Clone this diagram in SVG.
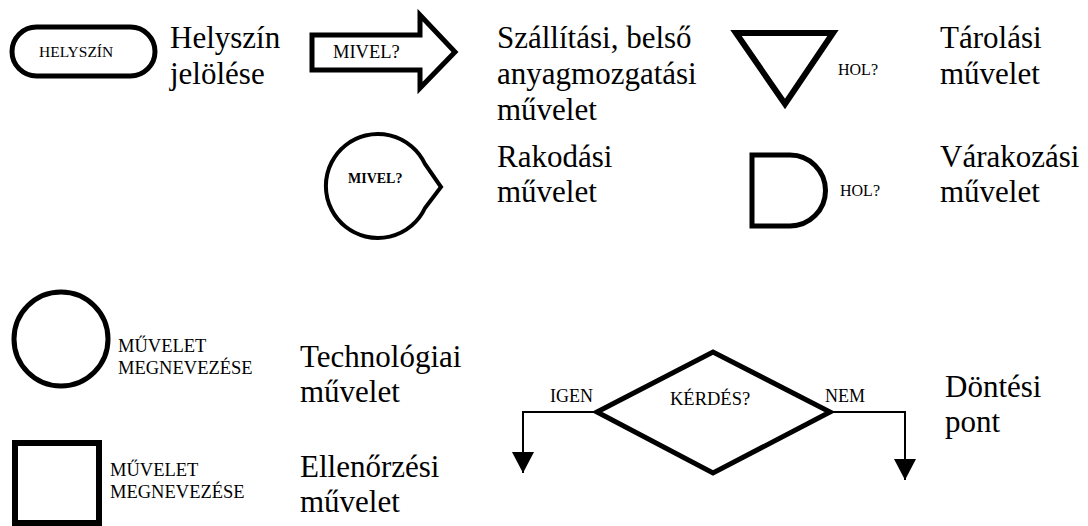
<svg xmlns="http://www.w3.org/2000/svg" width="1088" height="526" viewBox="0 0 1088 526" font-family="'Liberation Serif', 'Times New Roman', serif">
<defs>
<style>
text{font-family:'Liberation Serif','Times New Roman',serif;fill:#000}
.big{font-size:31px}
.sm{font-size:18.5px}
.sh{fill:none;stroke:#000;stroke-width:5;stroke-linejoin:miter}
.cn{fill:none;stroke:#000;stroke-width:2}
</style>
<marker id="ah" viewBox="0 0 21 22" refX="21" refY="11" markerWidth="21" markerHeight="22" markerUnits="userSpaceOnUse" orient="auto">
<path d="M0,0 L21,11 L0,22 Z" fill="#000"/>
</marker>
</defs>
<rect width="1088" height="526" fill="#fff"/>
<g id="helyszin">
<rect class="sh" x="12" y="27" width="143" height="49" rx="24.5"/>
<text class="sm" x="39" y="57" style="font-size:15.5px">HELYSZÍN</text>
<text class="big" x="170" y="48">Helyszín</text>
<text class="big" x="170" y="84">jelölése</text>
</g>
<g id="szallitas">
<path class="sh" d="M312,35 H420 V15 L455,52 L420,88 V70 H312 Z"/>
<text class="sm" x="333" y="58">MIVEL?</text>
<text class="big" x="497" y="48">Szállítási, belső</text>
<text class="big" x="497" y="84">anyagmozgatási</text>
<text class="big" x="497" y="120">művelet</text>
</g>
<g id="tarolas">
<path class="sh" d="M736,33 H833 L785,104 Z" style="stroke-width:6"/>
<text class="sm" x="838" y="75" style="font-size:16px">HOL?</text>
<text class="big" x="940" y="48">Tárolási</text>
<text class="big" x="940" y="84">művelet</text>
</g>
<g id="rakodas">
<path class="sh" d="M425,164 A52,52 0 1 0 425,208 L441,187 Z" style="stroke-width:4"/>
<text class="sm" x="348" y="183" style="font-size:14px;font-weight:bold">MIVEL?</text>
<text class="big" x="497" y="167">Rakodási</text>
<text class="big" x="497" y="202">művelet</text>
</g>
<g id="varakozas">
<path class="sh" d="M752,155 H790 A35.5,35.5 0 0 1 790,226 H752 Z"/>
<text class="sm" x="840" y="196" style="font-size:16px">HOL?</text>
<text class="big" x="940" y="167">Várakozási</text>
<text class="big" x="940" y="202">művelet</text>
</g>
<g id="technologia">
<circle class="sh" cx="61" cy="339" r="47"/>
<text class="sm" x="118" y="352">MŰVELET</text>
<text class="sm" x="118" y="374">MEGNEVEZÉSE</text>
<text class="big" x="300" y="367">Technológiai</text>
<text class="big" x="300" y="402">művelet</text>
</g>
<g id="ellenorzes">
<rect class="sh" x="15" y="443" width="84" height="80" style="stroke-width:6"/>
<text class="sm" x="110" y="476">MŰVELET</text>
<text class="sm" x="110" y="498">MEGNEVEZÉSE</text>
<text class="big" x="300" y="477">Ellenőrzési</text>
<text class="big" x="300" y="512">művelet</text>
</g>
<g id="dontes">
<path class="sh" d="M597,412 L713,352 L830,412 L713,473 Z"/>
<text class="sm" x="670" y="405">KÉRDÉS?</text>
<text class="big" x="945" y="397">Döntési</text>
<text class="big" x="945" y="432">pont</text>
</g>
<g id="connectors">
<path class="cn" d="M597,412 H523 V473" marker-end="url(#ah)"/>
<path class="cn" d="M830,412 H905 V480" marker-end="url(#ah)"/>
<text class="sm" x="550" y="402" style="font-size:18px">IGEN</text>
<text class="sm" x="825" y="402" style="font-size:18px">NEM</text>
</g>
</svg>
